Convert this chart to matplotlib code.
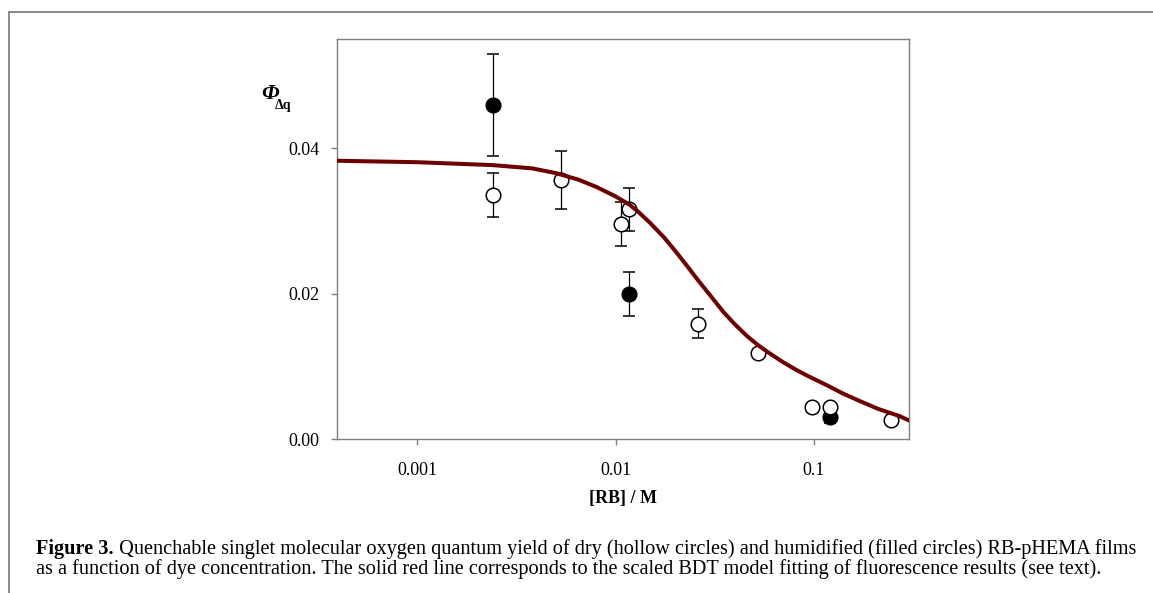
import matplotlib
matplotlib.use("Agg")
import matplotlib.pyplot as plt
from matplotlib.lines import Line2D

plt.rcParams['font.family'] = ['Liberation Serif', 'DejaVu Serif']

# ---- data ----
dry_x = [0.0024, 0.00531, 0.0106, 0.01167, 0.0260, 0.0521, 0.0977, 0.1202, 0.246]
dry_y = [0.0336, 0.0356, 0.0296, 0.0316, 0.0159, 0.0119, 0.0044, 0.0044, 0.0027]
dry_err = [0.0030, 0.0040, 0.0030, 0.0030, 0.0020, 0.0004, 0.0, 0.0, 0.0]

hum_x = [0.0024, 0.01167, 0.1202]
hum_y = [0.0460, 0.0200, 0.0030]
hum_err = [0.0070, 0.0030, 0.0008]

fit_x = [0.000395, 0.001, 0.0024, 0.0038, 0.0050, 0.0065, 0.0080, 0.0100, 0.0117,
         0.0130, 0.0150, 0.0175, 0.0200, 0.0230, 0.0260, 0.0300, 0.0350, 0.0400,
         0.0460, 0.0520, 0.0600, 0.0700, 0.0820, 0.0950, 0.1150, 0.1400, 0.1660,
         0.2100, 0.2700, 0.3030]
fit_y = [0.0383, 0.0381, 0.0377, 0.03725, 0.0366, 0.0357, 0.0347, 0.0334, 0.0323,
         0.0313, 0.0297, 0.0278, 0.0259, 0.0238, 0.0219, 0.0198, 0.0175, 0.0158,
         0.0142, 0.0130, 0.0118, 0.0106, 0.0095, 0.0086, 0.0075, 0.0063, 0.0054,
         0.0042, 0.0032, 0.00257]

xticks = [0.001, 0.01, 0.1]
xticklabels = ['0.001', '0.01', '0.1']
yticks = [0.00, 0.02, 0.04]
yticklabels = ['0.00', '0.02', '0.04']

caption_bold = 'Figure 3.'
caption_line1 = ' Quenchable singlet molecular oxygen quantum yield of dry (hollow circles) and humidified (filled circles) RB-pHEMA films'
caption_line2 = 'as a function of dye concentration. The solid red line corresponds to the scaled BDT model fitting of fluorescence results (see text).'

W, H = 1153, 593
fig = plt.figure(figsize=(W / 100, H / 100), dpi=100)
fig.patch.set_facecolor('white')

def fx(px):
    return px / W

def fy(py):
    return 1 - py / H

ax = fig.add_axes([fx(337.3), fy(439.3), fx(909.3) - fx(337.3), fy(39.3) - fy(439.3)])
ax.set_xscale('log')
ax.set_xlim(0.000395, 0.303)
ax.set_ylim(0, 0.055)

spine_c = '#7f7f7f'
for s in ax.spines.values():
    s.set_color(spine_c)
    s.set_linewidth(1.0)

ax.set_xticks(xticks)
ax.set_xticklabels(xticklabels)
ax.xaxis.set_minor_locator(matplotlib.ticker.NullLocator())
ax.set_yticks(yticks)
ax.set_yticklabels(yticklabels)
ax.tick_params(axis='both', which='major', direction='out', length=4, width=1.0,
               color=spine_c, labelsize=13)
ax.tick_params(axis='x', pad=12)
ax.tick_params(axis='y', pad=9)
ax.tick_params(top=False, right=False)

ms = 10.5
ax.errorbar(hum_x, hum_y, yerr=hum_err, fmt='o', ms=ms, mfc='black', mec='black',
            mew=1.1, ecolor='black', elinewidth=0.9, capsize=4.5, capthick=0.9, zorder=2)
ax.errorbar(dry_x, dry_y, yerr=dry_err, fmt='o', ms=ms, mfc='white', mec='black',
            mew=1.1, ecolor='black', elinewidth=0.9, capsize=4.5, capthick=0.9, zorder=3)
ax.plot(fit_x, fit_y, color='#6e0000', lw=2.9, zorder=4, solid_joinstyle='round')

ax.set_xlabel('[RB] / M', fontsize=13, fontweight='bold', labelpad=8)

# y label: Phi_{Delta q}
fig.text(fx(261), fy(94), 'Φ', fontsize=16, fontweight='bold', fontstyle='italic',
         ha='left', va='center')
fig.text(fx(275), fy(105), 'Δq', fontsize=10, fontweight='bold', ha='left', va='center')

# page frame lines
fig.add_artist(Line2D([fx(9.3), 1], [fy(12.3), fy(12.3)], color='#8a8a8a', lw=1.4,
                      transform=fig.transFigure))
fig.add_artist(Line2D([fx(9.3), fx(9.3)], [fy(12.3), 0], color='#8a8a8a', lw=1.4,
                      transform=fig.transFigure))

# caption
fig.canvas.draw()
r = fig.canvas.get_renderer()
fs = 13.0
t_b = fig.text(fx(36), fy(549), caption_bold, fontsize=fs, fontweight='bold',
               ha='left', va='center')
t_1 = fig.text(0, fy(549), caption_line1, fontsize=fs, ha='left', va='center')
t_2 = fig.text(fx(36), fy(569), caption_line2, fontsize=fs, ha='left', va='center')
wb = t_b.get_window_extent(r).width
w1 = t_1.get_window_extent(r).width
scale = (1132 - 36) / (wb + w1)
fs2 = fs * scale
for t in (t_b, t_1, t_2):
    t.set_fontsize(fs2)
wb = t_b.get_window_extent(r).width
t_1.set_x(fx(36 + wb))

fig.savefig('out.png', dpi=100, facecolor='white')
